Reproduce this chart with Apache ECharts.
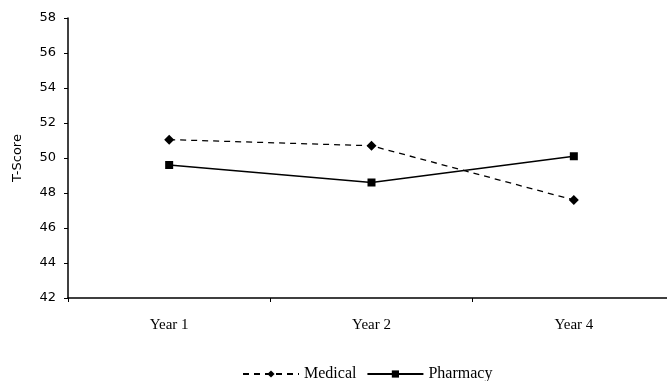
<!DOCTYPE html>
<html>
<head>
<meta charset="UTF-8">
<title>T-Score</title>
<script src="https://cdn.jsdelivr.net/npm/echarts@6/dist/echarts.min.js"></script>
</head>
<body style="margin:0">
<div id="main" style="width:667px;height:381px;"></div>
<script type="text/javascript">
var years = ['Year 1', 'Year 2', 'Year 4'];
var medical = [51.05, 50.7, 47.6];
var pharmacy = [49.6, 48.6, 50.1];

var myChart = echarts.init(document.getElementById('main'));
var option = {
    animation: false,
    backgroundColor: '#fff',
    grid: { left: 68, right: -8, top: 18, bottom: 83, outerBoundsMode: 'none', containLabel: false },
    legend: {
        left: 242, top: 366, padding: 0,
        itemWidth: 56, itemHeight: 9, itemGap: 10,
        textStyle: { fontFamily: 'Liberation Serif', fontSize: 16, color: '#000' },
        data: ['Medical', 'Pharmacy']
    },
    xAxis: {
        type: 'category',
        data: years,
        axisLine: { lineStyle: { color: '#000', width: 1.5 } },
        axisTick: { show: true, length: 4, lineStyle: { color: '#000' } },
        axisLabel: { margin: 20, color: '#000', fontFamily: 'Liberation Serif', fontSize: 15 }
    },
    yAxis: {
        type: 'value',
        min: 42, max: 58, interval: 2,
        name: 'T-Score',
        nameLocation: 'middle',
        nameGap: 44,
        nameTextStyle: { fontFamily: 'DejaVu Sans', fontSize: 13, color: '#000' },
        axisLine: { show: true, lineStyle: { color: '#000', width: 1.5 } },
        axisTick: { show: true, length: 4, lineStyle: { color: '#000' } },
        axisLabel: { margin: 12, color: '#000', fontFamily: 'DejaVu Sans', fontSize: 13 },
        splitLine: { show: false }
    },
    series: [
        {
            name: 'Medical', type: 'line', data: medical,
            symbol: 'diamond', symbolSize: 10,
            itemStyle: { color: '#000' },
            lineStyle: { color: '#000', width: 1.3, type: [6, 5] }
        },
        {
            name: 'Pharmacy', type: 'line', data: pharmacy,
            symbol: 'rect', symbolSize: 8,
            itemStyle: { color: '#000' },
            lineStyle: { color: '#000', width: 1.5 }
        }
    ]
};
myChart.setOption(option);
</script>
</body>
</html>
